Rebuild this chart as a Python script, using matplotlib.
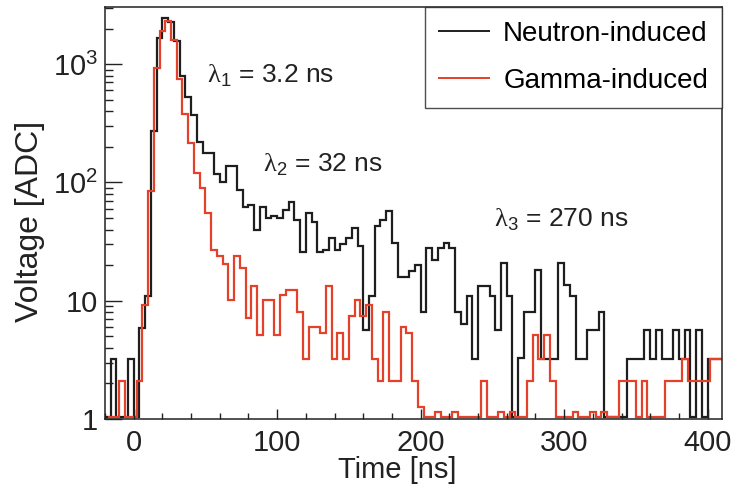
import numpy as np
import matplotlib
matplotlib.use("Agg")
import matplotlib.pyplot as plt
from matplotlib.ticker import FixedLocator, FixedFormatter, LogLocator, MultipleLocator

plt.rcParams["font.family"] = ["Liberation Sans", "DejaVu Sans"]
plt.rcParams["mathtext.fontset"] = "custom"
plt.rcParams["mathtext.rm"] = "Liberation Sans"
plt.rcParams["mathtext.it"] = "Liberation Sans:italic"
# serif upright lambda, like the ROOT symbol font
plt.rcParams["mathtext.sf"] = "Liberation Serif"

# 4 ns bins; black histogram starts at -20 ns, red one at -18 ns
BIN_W = 4
NEUTRON_START = -20
GAMMA_START = -18

neutron = [
    1.04, 3.2, 1.04, 1.04, 3.2, 1.04, 5.9, 10.9, 270, 1650,          # -20 .. 16
    2450, 2250, 1580, 800, 524, 370, 218, 179, 179, 117,              # 20 .. 56
    100, 137, 137, 87, 62, 65, 40, 62, 50, 52,                        # 60 .. 96
    50, 58, 68, 48, 26, 55, 46, 26, 27, 34,                           # 100 .. 136
    27, 30, 34, 41, 29, 5.7, 10.9, 42.6, 48.5, 57,                    # 140 .. 176
    31, 16, 16, 17.7, 20, 8.1, 28, 22, 28, 31,                        # 180 .. 216
    28, 8.1, 6.3, 10.9, 3.2, 13.2, 13.2, 10.9, 5.7, 20.9,             # 220 .. 256
    10.9, 1.04, 3.27, 8.1, 8.1, 18.3, 3.2, 3.2, 3.2, 20.9,            # 260 .. 296
    13.7, 10.9, 3.2, 3.2, 5.7, 5.7, 8.1, 1.04, 1.04, 1.04,            # 300 .. 336
    1.04, 3.2, 3.2, 3.2, 5.7, 3.2, 5.7, 3.2, 3.2, 5.7,                # 340 .. 376
    3.2, 5.7, 1.04, 5.7, 1.04, 3.2, 3.2, 3.2,                         # 380 .. 408
]

gamma = [
    1.04, 1.04, 2.1, 1.04, 1.04, 2.1, 9.2, 85, 920, 1900,             # -18 .. 18
    2300, 1600, 750, 380, 215, 120, 90, 55, 27, 23.7,                 # 22 .. 58
    20.5, 10.2, 24, 18.9, 7.1, 13.2, 5.1, 10.2, 10.2, 5.1,            # 62 .. 98
    11.2, 12.4, 12.4, 8.1, 3.2, 6.0, 6.0, 5.3, 13.2, 3.2,             # 102 .. 138
    5.3, 3.2, 7.4, 10.2, 7.4, 9.2, 3.2, 2.1, 8.1, 2.1,                # 142 .. 178
    2.1, 6.0, 5.3, 2.1, 1.27, 1.04, 1.04, 1.15, 1.04, 1.04,           # 182 .. 218
    1.15, 1.04, 1.04, 1.04, 1.04, 2.1, 1.04, 1.04, 1.15, 1.04,        # 222 .. 258
    1.15, 1.04, 1.04, 2.1, 5.15, 3.2, 5.15, 2.1, 1.04, 1.04,          # 262 .. 298
    1.04, 1.15, 1.04, 1.04, 1.15, 1.04, 1.15, 1.04, 1.04, 2.1,        # 302 .. 338
    2.1, 2.1, 1.04, 2.1, 1.04, 1.04, 1.04, 2.1, 2.1, 2.1,             # 342 .. 378
    3.2, 2.1, 2.1, 2.1, 2.1, 3.2, 3.2,                                # 382 .. 406
]

labels = ["Neutron-induced", "Gamma-induced"]
colors = ["#1e1e1e", "#e4402a"]

annotations = [
    (51, 800, r"$\mathsf{\lambda}_{1}$ = 3.2 ns"),
    (90, 140, r"$\mathsf{\lambda}_{2}$ = 32 ns"),
    (251, 48, r"$\mathsf{\lambda}_{3}$ = 270 ns"),
]

neutron_edges = NEUTRON_START + BIN_W * np.arange(len(neutron) + 1)
gamma_edges = GAMMA_START + BIN_W * np.arange(len(gamma) + 1)

fig = plt.figure(figsize=(7.42, 4.91), dpi=100)
ax = fig.add_axes([0.1415, 0.1466, 0.8315, 0.8391])

ax.stairs(neutron, neutron_edges, baseline=None, color=colors[0], lw=1.6, label=labels[0])
ax.stairs(gamma, gamma_edges, baseline=None, color=colors[1], lw=1.6, label=labels[1])

ax.set_yscale("log")
ax.set_xlim(-20, 410)
ax.set_ylim(1, 3040)

ax.yaxis.set_major_locator(FixedLocator([1, 10, 100, 1000]))
ax.yaxis.set_major_formatter(FixedFormatter(["1", "10", r"$10^{2}$", r"$10^{3}$"]))
ax.yaxis.set_minor_locator(LogLocator(base=10, subs=np.arange(2, 10)))
ax.yaxis.set_minor_formatter(FixedFormatter([]))
ax.xaxis.set_major_locator(MultipleLocator(100))
ax.xaxis.set_minor_locator(MultipleLocator(20))

ax.tick_params(axis="both", which="both", direction="in", top=False, right=False,
               labelsize=21, width=1.0, colors="#222222")
ax.tick_params(axis="y", which="major", length=12, pad=5)
ax.tick_params(axis="y", which="minor", length=6)
ax.tick_params(axis="x", which="major", length=7, pad=7)
ax.tick_params(axis="x", which="minor", length=4)
for s in ax.spines.values():
    s.set_linewidth(1.1)
    s.set_color("#222222")

ax.set_xlabel("Time [ns]", fontsize=21, color="#222222")
ax.xaxis.set_label_coords(0.473, -0.09)
ax.set_ylabel("Voltage [ADC]", fontsize=23, color="#222222", va="center")
ax.yaxis.set_label_coords(-0.122, 0.48)

for x, y, txt in annotations:
    ax.text(x, y, txt, fontsize=19, color="#222222", va="center", ha="left")

leg = ax.legend(loc="upper right", fontsize=20, frameon=True, fancybox=False,
                borderaxespad=0, handlelength=1.8, borderpad=0.5, labelspacing=0.75,
                handletextpad=0.5)
leg.get_frame().set_edgecolor("#222222")
leg.get_frame().set_linewidth(1.0)
for line in leg.get_lines():
    line.set_linewidth(1.4)

fig.savefig("out.png", dpi=100)
